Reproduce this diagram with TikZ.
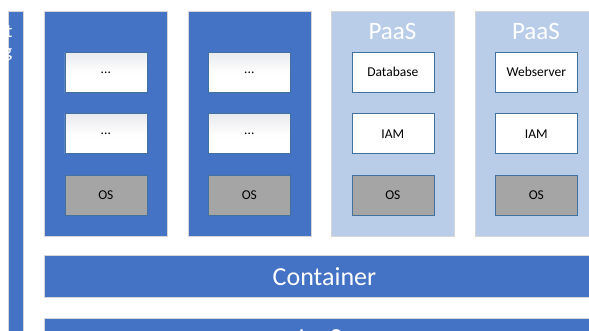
\documentclass[tikz,border=0pt]{standalone}
\usepackage{fontspec}
\setmainfont{Carlito}

\definecolor{tierblue}{HTML}{4472C4}
\definecolor{paasblue}{HTML}{B9CDE9}
\definecolor{edgegrey}{HTML}{D6D6D6}
\definecolor{boxedge}{HTML}{41719C}
\definecolor{osgrey}{HTML}{A5A5A5}
\definecolor{boxshade}{HTML}{E9EAEF}

\tikzset{
  panel/.style={draw=edgegrey, line width=0.9pt, inner sep=0pt, anchor=north west},
  tiercol/.style={panel, fill=tierblue, minimum width=123pt, minimum height=225pt},
  paascol/.style={panel, fill=paasblue, minimum width=123pt, minimum height=225pt},
  band/.style={panel, fill=tierblue, minimum width=560pt, minimum height=42pt,
    text=white, font=\fontsize{26}{30}\selectfont},
  layerbox/.style={draw=boxedge, line width=0.7pt, inner sep=0pt, anchor=north west,
    minimum width=82pt, minimum height=40pt, font=\fontsize{13.5}{16}\selectfont},
  appbox/.style={layerbox, shading=axis, shading angle=135,
    top color=boxshade, bottom color=white, middle color=white!97!boxshade},
  svcbox/.style={layerbox, fill=white},
  osbox/.style={layerbox, fill=osgrey},
  paastitle/.style={text=white, anchor=base, inner sep=0pt, font=\fontsize{25}{30}\selectfont},
  sidetext/.style={text=white, anchor=base east, inner sep=0pt, font=\fontsize{19}{22}\selectfont}
}

\begin{document}
\begin{tikzpicture}[x=1pt, y=-1pt]
  \clip (0,0) rectangle (589,331);
  \fill[white] (0,0) rectangle (589,331);

  % side bar with its label running off the left edge
  \node[panel, fill=tierblue, minimum width=15pt, minimum height=340pt] (side) at (8,11) {};
  \begin{scope}
    \clip (8.5,11.5) rectangle (22.5,331);
    \node[sidetext] (sidet) at (12.6,37.5) {t};
    \node[sidetext] (sideg) at (12.6,57.5) {g};
  \end{scope}

  % two generic stacks
  \node[tiercol] (c1) at (44,11) {};
  \node[tiercol] (c2) at (187.5,11) {};
  \node[appbox] (c1a) at (64.5,52) {...};
  \node[appbox] (c1b) at (64.5,113.5) {...};
  \node[osbox]  (c1os) at (64.5,175) {OS};
  \node[appbox] (c2a) at (208,52) {...};
  \node[appbox] (c2b) at (208,113.5) {...};
  \node[osbox]  (c2os) at (208,175) {OS};

  % two PaaS stacks
  \node[paascol] (c3) at (331,11) {};
  \node[paascol] (c4) at (474.5,11) {};
  \node[paastitle] (c3t) at (392.5,39.5) {PaaS};
  \node[paastitle] (c4t) at (536,39.5) {PaaS};
  \node[svcbox] (c3a) at (351.5,52) {Database};
  \node[svcbox] (c3b) at (351.5,113.5) {IAM};
  \node[osbox]  (c3os) at (351.5,175) {OS};
  \node[svcbox] (c4a) at (495,52) {Webserver};
  \node[svcbox] (c4b) at (495,113.5) {IAM};
  \node[osbox]  (c4os) at (495,175) {OS};

  % horizontal layers
  \node[band] (cont) at (44,255) {Container};
  \node[band, minimum height=40pt] (iaas) at (44,318) {};
  \node[text=white, anchor=base, inner sep=0pt, font=\fontsize{26}{30}\selectfont] (iaast) at (320,346) {IaaS};
\end{tikzpicture}
\end{document}
